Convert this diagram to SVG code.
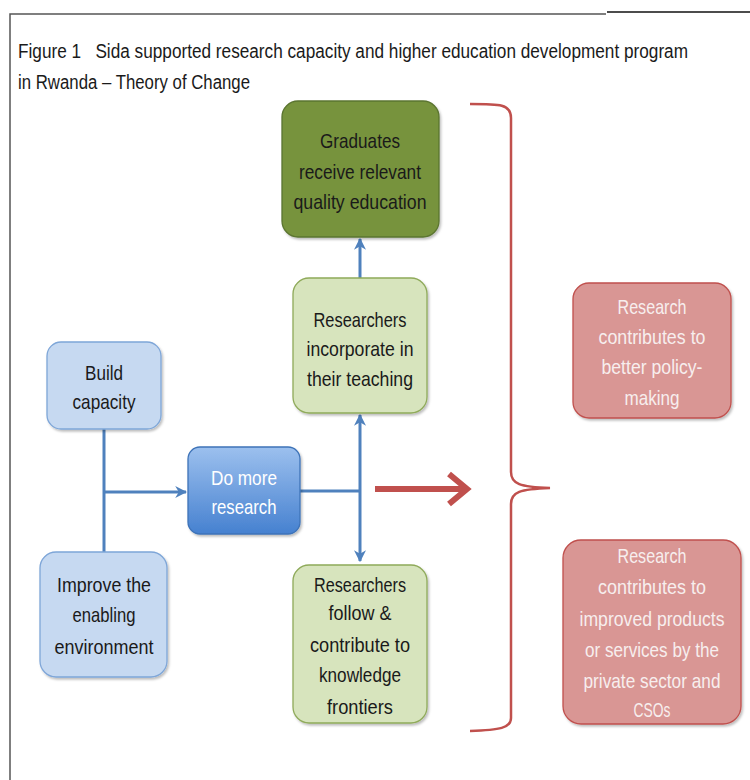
<svg xmlns="http://www.w3.org/2000/svg" width="750" height="780" viewBox="0 0 750 780">
  <defs>
    <linearGradient id="gradResearch" x1="0" y1="0" x2="0" y2="1">
      <stop offset="0" stop-color="#9CC0EE"/>
      <stop offset="1" stop-color="#4681D0"/>
    </linearGradient>
    <filter id="shadow" x="-10%" y="-10%" width="125%" height="125%">
      <feDropShadow dx="1.5" dy="2" stdDeviation="1.2" flood-color="#000" flood-opacity="0.25"/>
    </filter>
    <marker id="blueHead" viewBox="0 0 10 10" refX="9" refY="5" markerWidth="4" markerHeight="4" orient="auto-start-reverse" markerUnits="strokeWidth">
      <path d="M0,0 L10,5 L0,10 L3,5 z" fill="#4F81BD"/>
    </marker>
  </defs>
  <style>
    text { font-family: "Liberation Sans Narrow", "Liberation Sans", "DejaVu Sans", sans-serif; font-size: 21px; text-anchor: middle; }
    .title { text-anchor: start; fill: #1a1a1a; font-size: 20px; }
    .dark { fill: #1a1a1a; }
    .light { fill: #FFFFFF; }
    .pink { fill: #F7EEEE; }
    .box { filter: url(#shadow); stroke-width: 1.3; }
    .olive { fill: #77933C; stroke: #5B7530; }
    .sage { fill: #D7E4BD; stroke: #8FAA5A; }
    .sky { fill: #C6D9F1; stroke: #7EA6D8; }
    .deep { fill: url(#gradResearch); stroke: #3E73B8; }
    .rose { fill: #D99694; stroke: #C0504D; }
    .link { stroke: #4F81BD; stroke-width: 3; fill: none; }
  </style>

  <rect width="750" height="780" fill="#FFFFFF"/>

  <!-- page frame -->
  <path d="M10,780 V14 H606" fill="none" stroke="#555" stroke-width="1.5"/>
  <path d="M607,12 H750" fill="none" stroke="#111" stroke-width="1.5"/>

  <!-- heading -->
  <text class="title" x="18" y="58" textLength="670" lengthAdjust="spacingAndGlyphs">Figure 1&#160;&#160;&#160;Sida supported research capacity and higher education development program</text>
  <text class="title" x="18" y="89" textLength="232" lengthAdjust="spacingAndGlyphs">in Rwanda – Theory of Change</text>

  <!-- connectors -->
  <g id="connectors">
    <path class="link" d="M104,429 V552"/>
    <path class="link" d="M104,492 H186" marker-end="url(#blueHead)"/>
    <path class="link" d="M300,491 H360"/>
    <path class="link" d="M360,415 V561" marker-start="url(#blueHead)" marker-end="url(#blueHead)"/>
    <path class="link" d="M360,278 V239" marker-end="url(#blueHead)"/>
    <!-- red outcome arrow -->
    <path d="M375,489 H464" stroke="#C0504D" stroke-width="6" fill="none"/>
    <path d="M449,474 L467,489 L449,504" stroke="#C0504D" stroke-width="6" fill="none" stroke-linejoin="miter"/>
    <!-- brace -->
    <path d="M470,104 C500,104 511,104 511,118 V472 C511,484 520,487 550,488 C520,489 511,492 511,504 V718 C511,728 500,730 470,731" stroke="#C0504D" stroke-width="2.5" fill="none"/>
  </g>

  <g id="graduates">
    <rect class="box olive" x="282" y="101" width="157" height="136" rx="16"/>
    <text class="dark" x="360" y="148" textLength="80" lengthAdjust="spacingAndGlyphs">Graduates</text>
    <text class="dark" x="360" y="179" textLength="122" lengthAdjust="spacingAndGlyphs">receive relevant</text>
    <text class="dark" x="360" y="209" textLength="133" lengthAdjust="spacingAndGlyphs">quality education</text>
  </g>

  <g id="incorporate">
    <rect class="box sage" x="293" y="278" width="134" height="135" rx="16"/>
    <text class="dark" x="360" y="327" textLength="93" lengthAdjust="spacingAndGlyphs">Researchers</text>
    <text class="dark" x="360" y="356" textLength="107" lengthAdjust="spacingAndGlyphs">incorporate in</text>
    <text class="dark" x="360" y="386" textLength="106" lengthAdjust="spacingAndGlyphs">their teaching</text>
  </g>

  <g id="build">
    <rect class="box sky" x="47" y="342" width="114" height="87" rx="14"/>
    <text class="dark" x="104" y="380" textLength="38" lengthAdjust="spacingAndGlyphs">Build</text>
    <text class="dark" x="104" y="409" textLength="63" lengthAdjust="spacingAndGlyphs">capacity</text>
  </g>

  <g id="research">
    <rect class="box deep" x="188" y="447" width="112" height="87" rx="12"/>
    <text class="light" x="244" y="485" textLength="66" lengthAdjust="spacingAndGlyphs">Do more</text>
    <text class="light" x="244" y="514" textLength="65" lengthAdjust="spacingAndGlyphs">research</text>
  </g>

  <g id="enabling">
    <rect class="box sky" x="40" y="552" width="127" height="125" rx="16"/>
    <text class="dark" x="104" y="592" textLength="94" lengthAdjust="spacingAndGlyphs">Improve the</text>
    <text class="dark" x="104" y="622" textLength="63" lengthAdjust="spacingAndGlyphs">enabling</text>
    <text class="dark" x="104" y="654" textLength="99" lengthAdjust="spacingAndGlyphs">environment</text>
  </g>

  <g id="frontiers">
    <rect class="box sage" x="293" y="565" width="134" height="158" rx="16"/>
    <text class="dark" x="360" y="592" textLength="92" lengthAdjust="spacingAndGlyphs">Researchers</text>
    <text class="dark" x="360" y="620" textLength="63" lengthAdjust="spacingAndGlyphs">follow &amp;</text>
    <text class="dark" x="360" y="652" textLength="100" lengthAdjust="spacingAndGlyphs">contribute to</text>
    <text class="dark" x="360" y="682" textLength="82" lengthAdjust="spacingAndGlyphs">knowledge</text>
    <text class="dark" x="360" y="714" textLength="66" lengthAdjust="spacingAndGlyphs">frontiers</text>
  </g>

  <g id="policy">
    <rect class="box rose" x="573" y="283" width="158" height="135" rx="16"/>
    <text class="pink" x="652" y="314" textLength="69" lengthAdjust="spacingAndGlyphs">Research</text>
    <text class="pink" x="652" y="344" textLength="107" lengthAdjust="spacingAndGlyphs">contributes to</text>
    <text class="pink" x="652" y="374" textLength="101" lengthAdjust="spacingAndGlyphs">better policy-</text>
    <text class="pink" x="652" y="405" textLength="55" lengthAdjust="spacingAndGlyphs">making</text>
  </g>

  <g id="products">
    <rect class="box rose" x="563" y="540" width="178" height="184" rx="18"/>
    <text class="pink" x="652" y="563" textLength="69" lengthAdjust="spacingAndGlyphs">Research</text>
    <text class="pink" x="652" y="594" textLength="108" lengthAdjust="spacingAndGlyphs">contributes to</text>
    <text class="pink" x="652" y="626" textLength="145" lengthAdjust="spacingAndGlyphs">improved products</text>
    <text class="pink" x="652" y="657" textLength="134" lengthAdjust="spacingAndGlyphs">or services by the</text>
    <text class="pink" x="652" y="688" textLength="137" lengthAdjust="spacingAndGlyphs">private sector and</text>
    <text class="pink" x="652" y="717" textLength="37" lengthAdjust="spacingAndGlyphs">CSOs</text>
  </g>
</svg>
